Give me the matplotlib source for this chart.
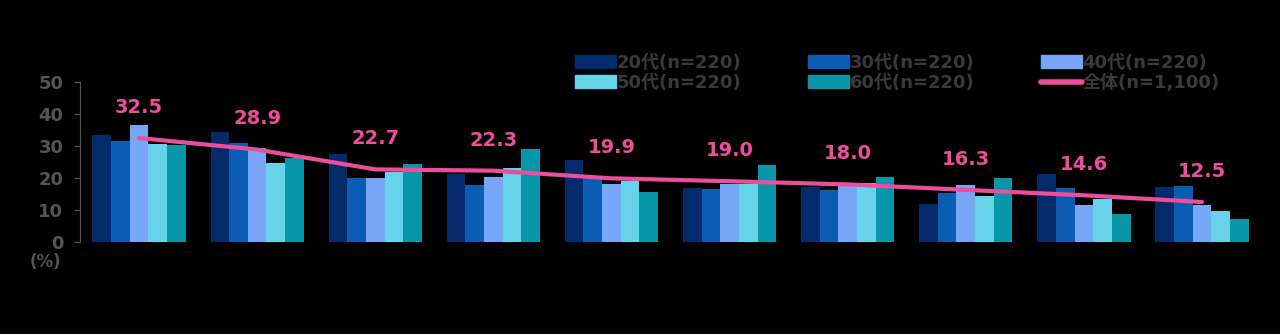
import numpy as np
import matplotlib
matplotlib.use("Agg")
import matplotlib.pyplot as plt
from matplotlib.patches import Patch
from matplotlib.lines import Line2D

plt.rcParams['font.family'] = ['DejaVu Sans', 'Noto Sans CJK JP']

# values (%)
groups = list(range(10))
age_labels = ['20代(n=220)', '30代(n=220)', '40代(n=220)', '50代(n=220)', '60代(n=220)']
age_20 = [33.4, 34.3, 27.5, 21.4, 25.6, 16.8, 17.3, 11.9, 21.4, 17.1]
age_30 = [31.6, 30.8, 19.9, 17.8, 19.9, 16.6, 16.3, 15.4, 16.8, 17.5]
age_40 = [36.6, 29.4, 19.9, 20.4, 18.0, 18.0, 18.4, 17.8, 11.6, 11.6]
age_50 = [30.5, 24.6, 22.0, 23.0, 19.2, 18.0, 18.4, 14.4, 13.3, 9.7]
age_60 = [30.3, 26.2, 24.3, 29.0, 15.7, 24.0, 20.4, 20.0, 8.6, 7.1]
total_label = '全体(n=1,100)'
total = [32.5, 28.9, 22.7, 22.3, 19.9, 19.0, 18.0, 16.3, 14.6, 12.5]

colors = ['#032B6C', '#0B5DB3', '#78A6F6', '#67D3EA', '#0797A8']
pink = '#EE4D9C'
text_col = '#3A3A3A'
tick_col = '#555555'

fig = plt.figure(figsize=(12.8, 3.34), dpi=100, facecolor='black')
ax = fig.add_axes([0.0625, 0.2754, 0.9227, 0.479])
ax.set_facecolor('black')

x = np.arange(len(groups))
w = 0.158
series = [age_20, age_30, age_40, age_50, age_60]
for i, vals in enumerate(series):
    ax.bar(x + (i - 2) * w, vals, width=w, color=colors[i], linewidth=0)

ax.plot(x, total, color=pink, lw=3, solid_capstyle='round', zorder=5)
for xi, v in zip(x, total):
    ax.annotate(f'{v:.1f}', (xi, v), xytext=(0, 22), textcoords='offset points',
                ha='center', va='center', color=pink, fontsize=14, fontweight='bold')

ax.set_xlim(-0.5, len(groups) - 0.5)
ax.set_ylim(0, 50)
ax.set_yticks([0, 10, 20, 30, 40, 50])
ax.set_xticks([])
ax.tick_params(axis='y', colors=tick_col, labelsize=13, length=4, width=1, pad=8)
for lab in ax.get_yticklabels():
    lab.set_fontweight('bold')
for s in ['top', 'right', 'bottom']:
    ax.spines[s].set_visible(False)
ax.spines['left'].set_color(tick_col)
ax.text(-0.016, -0.125, '(%)', transform=ax.transAxes, ha='right', va='center',
        color=tick_col, fontsize=12, fontweight='bold')

handles = [Patch(color=c) for c in colors] + [Line2D([], [], color=pink, lw=4, solid_capstyle='round')]
labels = age_labels + [total_label]
order = [0, 3, 1, 4, 2, 5]
leg = fig.legend([handles[i] for i in order], [labels[i] for i in order], ncol=3,
                 loc='upper left', bbox_to_anchor=(0.442, 0.865), frameon=False,
                 fontsize=13, labelcolor=text_col, handlelength=2.3, handleheight=0.7,
                 handletextpad=0.0, columnspacing=3.7, labelspacing=0.1, borderpad=0)
for t in leg.get_texts():
    t.set_fontweight('bold')

fig.savefig('out.png', dpi=100, facecolor='black')
